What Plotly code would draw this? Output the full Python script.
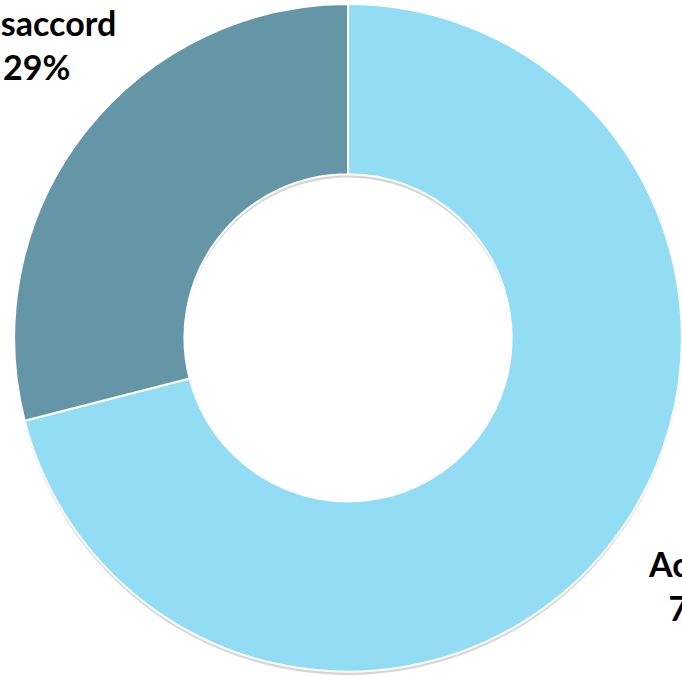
import plotly.graph_objects as go

labels = ["Accord", "Désaccord"]
values = [71, 29]
colors = ["#92DDF4", "#6496A8"]

# label anchor positions in paper coordinates (layout only)
label_pos = {"Accord": (1.029, 0.133), "Désaccord": (0.033, 0.939)}

fig = go.Figure()

# soft drop shadow under the ring
fig.add_trace(go.Pie(
    labels=labels,
    values=values,
    hole=0.49,
    sort=False,
    direction="clockwise",
    rotation=0,
    marker=dict(colors=["rgba(0,0,0,0.16)"] * len(values), line=dict(width=0)),
    textinfo="none",
    hoverinfo="skip",
    showlegend=False,
    domain=dict(x=[0, 1], y=[0, 0.995]),
))

fig.add_trace(go.Pie(
    labels=labels,
    values=values,
    hole=0.49,
    sort=False,
    direction="clockwise",
    rotation=0,
    marker=dict(colors=colors, line=dict(color="white", width=2)),
    textinfo="none",
    hoverinfo="label+percent",
    showlegend=False,
    domain=dict(x=[0, 1], y=[0.005, 1]),
))

total = sum(values)
for lab, val in zip(labels, values):
    x, y = label_pos[lab]
    fig.add_annotation(
        x=x, y=y, xref="paper", yref="paper",
        text=f"<b>{lab}<br>{round(100*val/total)}%</b>",
        showarrow=False, xanchor="center", yanchor="middle",
        font=dict(family="Lato, Open Sans, sans-serif", size=34, color="black"),
        align="center",
    )

fig.update_layout(
    width=682, height=678,
    margin=dict(l=14, r=0, t=4, b=3),
    paper_bgcolor="white",
    plot_bgcolor="white",
)

fig.write_html("out.html", config={"displayModeBar": False},
               post_script="document.body.style.margin='0';")
